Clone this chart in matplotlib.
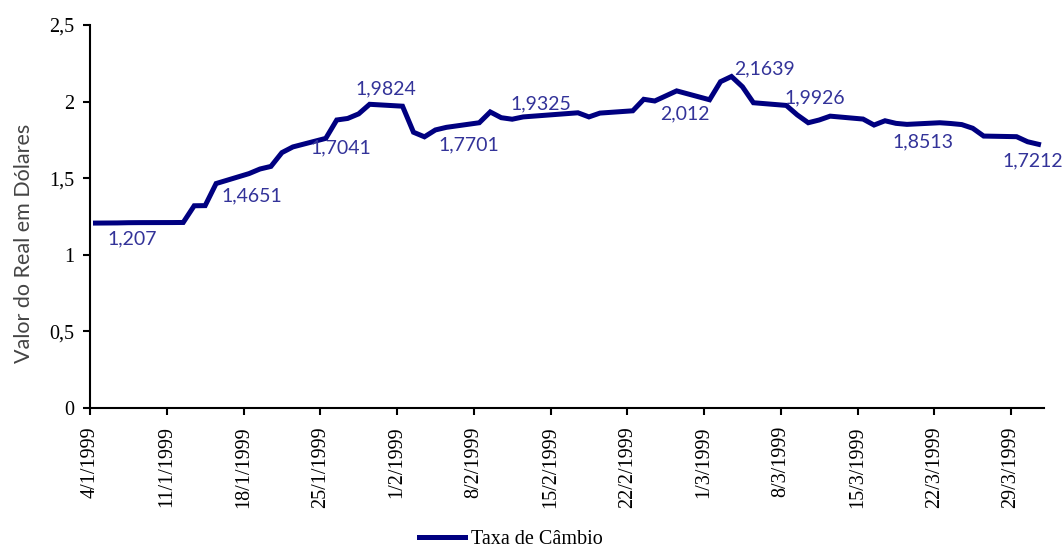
"""Taxa de câmbio R$/US$, jan-mar 1999."""

import datetime as dt

import matplotlib
matplotlib.use("Agg")
import matplotlib.pyplot as plt
import matplotlib.dates as mdates
from matplotlib.ticker import FuncFormatter, MultipleLocator

# --- data (business days, dd/mm 1999) ---
dates = [
    "04/01", "05/01", "06/01", "07/01", "08/01",
    "11/01", "12/01", "13/01", "14/01", "15/01",
    "18/01", "19/01", "20/01", "21/01", "22/01",
    "25/01", "26/01", "27/01", "28/01", "29/01",
    "01/02", "02/02", "03/02", "04/02", "05/02",
    "08/02", "09/02", "10/02", "11/02", "12/02",
    "17/02", "18/02", "19/02",
    "22/02", "23/02", "24/02", "25/02", "26/02",
    "01/03", "02/03", "03/03", "04/03", "05/03",
    "08/03", "09/03", "10/03", "11/03", "12/03",
    "15/03", "16/03", "17/03", "18/03", "19/03",
    "22/03", "23/03", "24/03", "25/03", "26/03",
    "29/03", "30/03", "31/03",
]
taxa = [
    1.207, 1.2075, 1.208, 1.2095, 1.210,
    1.2105, 1.211, 1.320, 1.321, 1.4651,
    1.530, 1.560, 1.577, 1.667, 1.7041,
    1.760, 1.880, 1.890, 1.920, 1.9824,
    1.970, 1.800, 1.7701, 1.815, 1.832,
    1.862, 1.9325, 1.895, 1.885, 1.900,
    1.927, 1.900, 1.925,
    1.940, 2.015, 2.004, 2.037, 2.070,
    2.012, 2.130, 2.1639, 2.097, 1.9926,
    1.975, 1.913, 1.862, 1.880, 1.905,
    1.886, 1.847, 1.875, 1.858, 1.8513,
    1.862, 1.857, 1.850, 1.826, 1.775,
    1.771, 1.738, 1.7212,
]

# labelled points: (date, text, offset in pixels)
rotulos = [
    ("04/01", "1,207", (37, -16)),
    ("15/01", "1,4651", (36, -12)),
    ("22/01", "1,7041", (48, -1)),
    ("29/01", "1,9824", (16, 15)),
    ("03/02", "1,7701", (44, -8)),
    ("09/02", "1,9325", (51, 8)),
    ("01/03", "2,012", (-25, -14)),
    ("03/03", "2,1639", (33, 8)),
    ("05/03", "1,9926", (61, 5)),
    ("19/03", "1,8513", (16, -17)),
    ("31/03", "1,7212", (-6, -17)),
]


def to_date(s):
    d, m = s.split("/")
    return dt.datetime(1999, int(m), int(d))


# points sit in the middle of each day
x = [to_date(s) + dt.timedelta(hours=12) for s in dates]
val = dict(zip(dates, taxa))

SERIF = "Liberation Serif"
SANS = "Lato"
NAVY = "#000080"
LBL = "#333399"

fig = plt.figure(figsize=(10.64, 5.52), dpi=100)
ax = fig.add_axes([0.0846, 0.2609, 0.8966, 0.6938])

line, = ax.plot(x, taxa, color=NAVY, linewidth=3.6, solid_joinstyle="miter",
                label="Taxa de Câmbio")

for d, txt, (dx, dy) in rotulos:
    ax.annotate(txt, (to_date(d) + dt.timedelta(hours=12), val[d]),
                xytext=(dx, dy), textcoords="offset pixels",
                ha="center", va="center", fontsize=14,
                family=SANS, color=LBL)

ax.set_xlim(dt.datetime(1999, 1, 4), dt.datetime(1999, 4, 1))
ax.set_ylim(0, 2.5)

mondays = [dt.datetime(1999, 1, 4) + dt.timedelta(days=7 * k) for k in range(13)]
ax.set_xticks(mondays)
ax.xaxis.set_major_formatter(FuncFormatter(
    lambda v, pos: (lambda d: f"{d.day}/{d.month}/{d.year}")(mdates.num2date(v))))
ax.yaxis.set_major_locator(MultipleLocator(0.5))
ax.yaxis.set_major_formatter(FuncFormatter(
    lambda v, pos: f"{v:g}".replace(".", ",")))

for lab in ax.get_xticklabels():
    lab.set_rotation(90)
for lab in ax.get_xticklabels() + ax.get_yticklabels():
    lab.set_family(SERIF)
    lab.set_fontsize(14.5)

ax.tick_params(axis="both", direction="out", length=5, width=1.5,
               color="black")
ax.tick_params(axis="x", pad=8)
ax.tick_params(axis="y", pad=6)

for side in ("top", "right"):
    ax.spines[side].set_visible(False)
for side in ("left", "bottom"):
    ax.spines[side].set_linewidth(1.5)

fig.text(24 / 1064, 1 - 243 / 552, "Valor do Real em Dólares", rotation=90,
         ha="center", va="center", fontsize=15.5, family=SANS,
         color="#444444")

fig.legend(handles=[line], loc="center", bbox_to_anchor=(0.48, 0.022),
           frameon=False, handlelength=2.3, handletextpad=0.3,
           prop={"family": SERIF, "size": 14.5})

fig.savefig("out.png", dpi=100)
